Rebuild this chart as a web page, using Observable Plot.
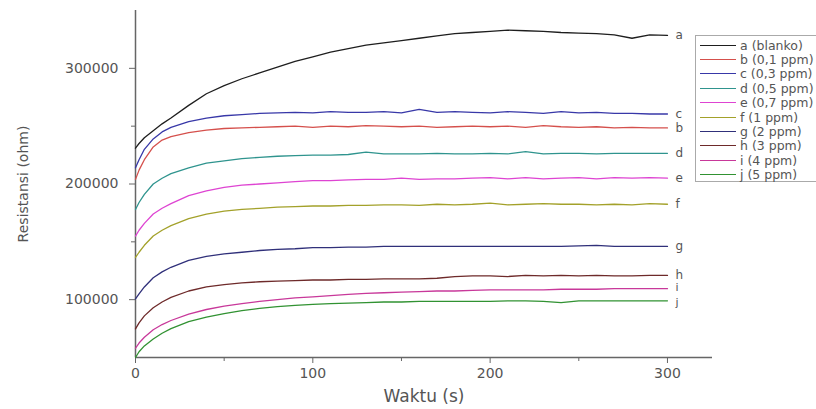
<!DOCTYPE html>
<html><head><meta charset="utf-8">
<script src="https://cdn.jsdelivr.net/npm/d3@7"></script>
<script src="https://cdn.jsdelivr.net/npm/@observablehq/plot@0.6"></script>
<style>
html,body{margin:0;padding:0;background:#fff;overflow:hidden;width:816px;height:409px}
#wrap{position:relative;width:816px;height:409px}
#legend{position:absolute;left:695px;top:35px;width:140px;height:145px;border:1px solid #aaa;background:#fff;font-family:"DejaVu Sans",sans-serif;font-size:12.5px;color:#555}
.row{position:absolute;left:0;height:14px;display:flex;align-items:center;white-space:nowrap}
.sw{width:36px;height:0;border-top:1.5px solid;margin-left:4px;margin-right:4px}
</style></head><body><div id="wrap"></div>
<script>
const time = [0,2,5,10,15,20,30,40,50,60,70,80,90,100,110,120,130,140,150,160,170,180,190,200,210,220,230,240,250,260,270,280,290,300];
const a = [231000,235000,240000,246000,252000,257000,268000,278000,285000,291000,296000,301000,306000,310000,314000,317000,320000,322000,324000,326000,328000,330000,331000,332000,333000,332500,332000,331000,330500,330000,329000,326000,329000,328500];
const b = [204000,212000,221000,232000,238000,241000,244500,246500,248000,248500,249000,249500,250000,249000,250000,249500,250500,250000,249500,250000,249000,249500,250000,249500,250000,249000,250500,249500,249000,249500,248500,249000,248500,248500];
const c = [214000,221000,230000,239000,245000,249000,254000,257000,259000,260000,261000,261500,262000,261500,262500,262000,262000,262500,261500,264500,262000,262500,262000,261500,262500,262000,261000,262500,261500,262000,261000,261000,260500,260500];
const d = [178000,184000,191000,200000,205000,209000,214000,218000,220000,222000,223000,224000,224500,225000,225000,225500,227500,226000,226000,226000,226500,226000,226000,226500,226000,228000,226000,226500,226500,226000,226500,226500,226500,226500];
const e = [155000,160000,166000,174000,179000,183000,190000,194000,197000,199000,200000,201000,202000,203000,203000,203500,204000,204000,205000,204000,204500,204500,205000,205500,204500,205500,204500,205000,205500,204500,205500,205000,205500,205000];
const f = [136500,141000,147000,155000,160000,164000,170000,174000,176500,178000,179000,180000,180500,181000,181000,181500,181500,182000,182000,181500,182500,182000,182500,183500,182000,182500,183000,182500,182500,182000,182500,182000,183000,182500];
const g = [100600,105000,111000,119000,124000,128000,134000,137500,139500,141000,142500,143500,144000,145000,145000,145500,145500,146000,146000,146000,146000,146000,146000,146000,146000,146000,146000,146000,146500,147000,146000,146000,146000,146000];
const h = [74700,80000,86000,93000,98000,102000,107500,111000,113000,114500,115500,116000,116500,117000,117000,117500,117500,118000,118000,118000,118500,120000,120500,120500,120000,121000,120500,121000,120500,121000,120500,120500,121000,121000];
const i = [58000,62500,67500,74000,78500,82000,87500,91500,94500,96500,98500,100000,101500,102500,103500,104500,105500,106000,106500,107000,107500,107500,108000,108500,108500,108500,108500,109000,109000,109000,109500,109500,109500,109500];
const j = [50000,55000,60000,66000,71000,75000,81000,85000,88000,90500,92500,94000,95000,96000,96500,97000,97500,98000,98000,98500,98500,98500,98500,98500,99000,99000,98500,97500,99000,99000,99000,99000,99000,99000];

const keys = ["a","b","c","d","e","f","g","h","i","j"];
const names = ["a (blanko)","b (0,1 ppm)","c (0,3 ppm)","d (0,5 ppm)","e (0,7 ppm)","f (1 ppm)","g (2 ppm)","h (3 ppm)","i (4 ppm)","j (5 ppm)"];
const colors = ["#1e1e1e","#d5504c","#3838a8","#2f948e","#de44d2","#a3a12a","#30307a","#6e2a2a","#c8389a","#319232"];
const yTicks = [100000,200000,300000];
const yMinor = [150000,250000];
const xTicks = [0,100,200,300];
const xMinor = [50,150,250];

const seriesVals = [a,b,c,d,e,f,g,h,i,j];
const rows = [];
keys.forEach((k, n) => seriesVals[n].forEach((v, m) => rows.push({key: k, t: time[m], v})));
const ends = keys.map((k, n) => ({key: k, t: time[time.length-1], v: seriesVals[n][seriesVals[n].length-1]}));
const endsMain = ends.filter(o => o.key !== "i" && o.key !== "j");
const endsI = ends.filter(o => o.key === "i");
const endsJ = ends.filter(o => o.key === "j");

const chart = Plot.plot({
  width: 816, height: 409,
  marginLeft: 135, marginRight: 104, marginTop: 10, marginBottom: 52,
  style: {fontFamily: "DejaVu Sans, sans-serif", fontSize: "14px", color: "#555", background: "transparent"},
  x: {domain: [0, 325.4]},
  y: {domain: [50000, 350000]},
  color: {domain: keys, range: colors},
  marks: [
    Plot.axisX({ticks: xTicks, tickSize: 6, tickPadding: 5, tickFormat: d => String(d), label: null, fontSize: 14, stroke: "#666"}),
    Plot.axisX({ticks: xMinor, tickSize: 4, tickFormat: () => "", label: null, stroke: "#666"}),
    Plot.axisX({ticks: [], tickSize: 0, label: "Waktu (s)", labelAnchor: "center", labelArrow: "none", labelOffset: 44, fontSize: 17}),
    Plot.axisY({ticks: yTicks, tickSize: 6, tickPadding: 11, tickFormat: d => String(d), label: "Resistansi (ohm)", labelAnchor: "center", labelArrow: "none", labelOffset: 117, fontSize: 14, stroke: "#666"}),
    Plot.axisY({ticks: yMinor, tickSize: 4, tickFormat: () => "", label: null, stroke: "#666"}),
    Plot.ruleX([0], {stroke: "#666", strokeWidth: 1.5}),
    Plot.ruleY([50000], {stroke: "#666", strokeWidth: 1.5}),
    Plot.line(rows, {x: "t", y: "v", z: "key", stroke: "key", strokeWidth: 1.3}),
    Plot.text(endsMain, {x: "t", y: "v", text: "key", dx: 8, textAnchor: "start", fill: "#555", fontSize: 12}),
    Plot.text(endsI, {x: "t", y: "v", text: "key", dx: 8, dy: -1.5, textAnchor: "start", fill: "#555", fontSize: 11}),
    Plot.text(endsJ, {x: "t", y: "v", text: "key", dx: 8, dy: 2, textAnchor: "start", fill: "#555", fontSize: 11})
  ]
});
const wrap = document.getElementById("wrap");
wrap.appendChild(chart);

const leg = document.createElement("div");
leg.id = "legend";
names.forEach((nm, n) => {
  const r = document.createElement("div");
  r.className = "row";
  r.style.top = (2 + n * 14.4) + "px";
  const sw = document.createElement("span");
  sw.className = "sw";
  sw.style.borderTopColor = colors[n];
  const tx = document.createElement("span");
  tx.textContent = nm;
  r.appendChild(sw); r.appendChild(tx);
  leg.appendChild(r);
});
wrap.appendChild(leg);
</script>
</body></html>
